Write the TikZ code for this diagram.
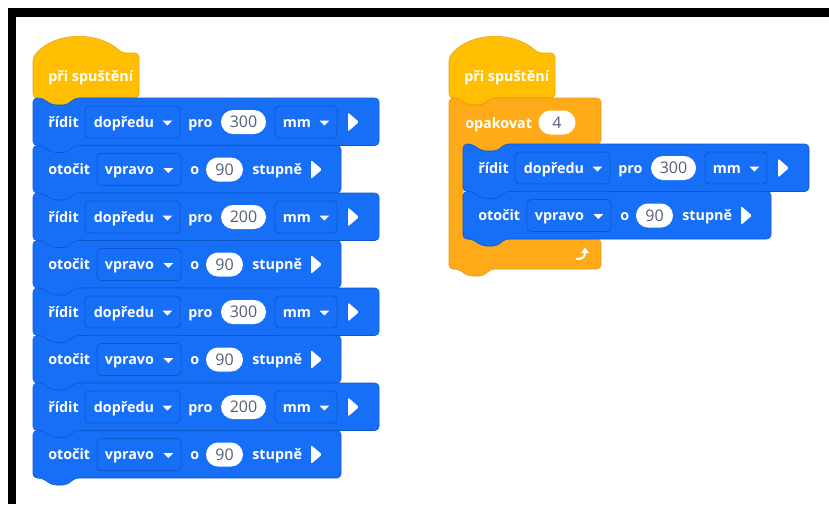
\documentclass[tikz,border=0pt]{standalone}
\usepackage{fontspec}
\setmainfont{Open Sans}
\usetikzlibrary{calc}
\definecolor{mcBlue}{HTML}{176FF8}
\definecolor{mcBlueLine}{HTML}{0C58CC}
\definecolor{mcYellow}{HTML}{FFBF00}
\definecolor{mcYellowLine}{HTML}{E5A900}
\definecolor{mcOrange}{HTML}{FFAB19}
\definecolor{mcOrangeLine}{HTML}{E5961A}
\definecolor{mcGrey}{HTML}{575E75}
\newdimen\pxu \pxu=0.75pt

% one stack block with notch on top and tab below
\newcommand{\codeblock}[3]{%
  \draw[blk] (#1,#2+47.5) -- (#1,#2) -- (#1+9,#2) -- (#1+19,#2+7) -- (#1+34,#2+7) -- (#1+42,#2)
    -- (#1+#3,#2) -- (#1+#3,#2+47.5) -- (#1+42,#2+47.5) -- (#1+34,#2+54.5) -- (#1+19,#2+54.5)
    -- (#1+9,#2+47.5) -- cycle;}
\newcommand{\ddarrow}[1]{\fill[white] ($(#1.east)+(-18,-1.5)$) -- ++(10,0) -- ++(-5,5) -- cycle;}
\newcommand{\playtri}[2]{\fill[white, rounded corners=1pt] (#1,#2-9.5) -- (#1+11,#2) -- (#1,#2+9.5) -- cycle;}

\newcommand{\hatblock}[3]{%
  \draw[hat] (#2,#3) -- (#2,#3-41) .. controls (#2+22,#3-67) and (#2+65,#3-67) .. (#2+89,#3-45)
    -- (#2+106,#3-45) -- (#2+106,#3) -- (#2+42,#3) -- (#2+34,#3+7) -- (#2+19,#3+7) -- (#2+9,#3) -- cycle;
  \node[lbl] (#1-txt) at (#2+15,#3-17) {při spuštění};}

\newcommand{\riditblock}[4]{%
  \codeblock{#2}{#3}{346}
  \node[lbl] (#1-cmd) at (#2+15,#3+29) {řídit};
  \node[ddbox, minimum width=95*\pxu] (#1-dir) at (#2+99.5,#3+24) {};
  \node[lbl] (#1-dirtxt) at ($(#1-dir.west)+(9,5)$) {dopředu};
  \ddarrow{#1-dir}
  \node[lbl] (#1-pro) at (#2+155,#3+29) {pro};
  \node[numoval, minimum width=45*\pxu] (#1-num) at (#2+210.5,#3+24) {#4};
  \node[ddbox, minimum width=62*\pxu] (#1-unit) at (#2+273,#3+24) {};
  \node[lbl] (#1-unittxt) at ($(#1-unit.west)+(8,5)$) {mm};
  \ddarrow{#1-unit}
  \playtri{#2+315}{#3+24}}

\newcommand{\otocitblock}[4]{%
  \codeblock{#2}{#3}{308}
  \node[lbl] (#1-cmd) at (#2+15,#3+29) {otočit};
  \node[ddbox, minimum width=84*\pxu] (#1-dir) at (#2+106,#3+24) {};
  \node[lbl] (#1-dirtxt) at ($(#1-dir.west)+(8,5)$) {vpravo};
  \ddarrow{#1-dir}
  \node[lbl] (#1-o) at (#2+157,#3+29) {o};
  \node[numoval, minimum width=37*\pxu] (#1-num) at (#2+191.5,#3+24) {#4};
  \node[lbl] (#1-unit) at (#2+219,#3+29) {stupně};
  \playtri{#2+278}{#3+24}}

\begin{document}
\begin{tikzpicture}[x=0.75pt, y=-0.75pt,
  blk/.style={fill=mcBlue, draw=mcBlueLine, line width=0.4pt, rounded corners=3pt},
  hat/.style={fill=mcYellow, draw=mcYellowLine, line width=0.4pt, rounded corners=3pt},
  loopblk/.style={fill=mcOrange, draw=mcOrangeLine, line width=0.4pt, rounded corners=3pt},
  lbl/.style={text=white, font=\fontsize{10.75}{12}\selectfont\bfseries, anchor=base west, inner sep=0pt},
  ddbox/.style={fill=mcBlue, draw=mcBlueLine, line width=0.6pt, rounded corners=3pt, minimum height=32*\pxu, inner sep=0pt},
  numoval/.style={fill=white, text=mcGrey, font=\fontsize{12}{13}\selectfont, rounded corners=9pt, minimum height=24*\pxu, inner sep=0pt}]
  \useasboundingbox (0,0) rectangle (829,504);
  \fill[white] (0,0) rectangle (829,504);
  % frame
  \fill[black] (8,8) rectangle (829,16.5);
  \fill[black] (8,8) rectangle (15.5,504);

  % left program
  \hatblock{hatL}{33}{98}
  \riditblock{goA}{33}{98}{300}
  \otocitblock{turnA}{33}{145.5}{90}
  \riditblock{goB}{33}{193}{200}
  \otocitblock{turnB}{33}{240.5}{90}
  \riditblock{goC}{33}{288}{300}
  \otocitblock{turnC}{33}{335.5}{90}
  \riditblock{goD}{33}{383}{200}
  \otocitblock{turnD}{33}{430.5}{90}

  % right program
  \hatblock{hatR}{449}{98}
  \draw[loopblk] (449,269) -- (449,98) -- (458,98) -- (468,105) -- (483,105) -- (491,98) -- (601,98)
    -- (601,144) -- (505,144) -- (497,151) -- (482,151) -- (472,144) -- (463,144) -- (463,239)
    -- (601,239) -- (601,269) -- (491,269) -- (483,276) -- (468,276) -- (458,269) -- cycle;
  \node[lbl] (rep) at (465,128) {opakovat};
  \node[numoval, minimum width=37*\pxu] (rep-num) at (557,122.5) {4};
  \riditblock{goE}{463}{144}{300}
  \otocitblock{turnE}{463}{191.5}{90}
  \draw[white, line width=1.5pt] (576,259) .. controls (583,259) and (585,257) .. (585,252);
  \fill[white] (581,253) -- (589,253) -- (585,247.5) -- cycle;
\end{tikzpicture}
\end{document}
